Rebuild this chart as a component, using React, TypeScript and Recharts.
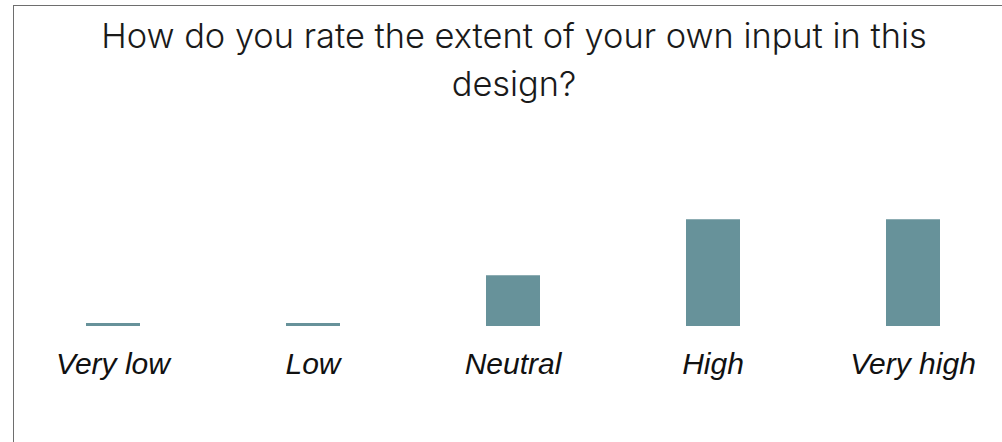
import { BarChart, Bar, XAxis, YAxis } from "recharts";

// answer options and share of respondents (%)
const categories = ["Very low", "Low", "Neutral", "High", "Very high"];
const shares = [0, 0, 19.2, 40.4, 40.4];
const yTicks = [0, 50];

const title = ["How do you rate the extent of your own input in this", "design?"];

const data = categories.map((name, i) => ({ name, value: shares[i] }));

const barColor = "#67929a";

const CategoryTick = (props: any) => {
  const { x, y, payload } = props;
  return (
    <text
      x={x}
      y={y}
      dy={40}
      textAnchor="middle"
      fill="#111"
      fontSize={30}
      fontStyle="italic"
      fontFamily="'Liberation Sans', Arial, sans-serif"
    >
      {payload.value}
    </text>
  );
};

export default function App() {
  return (
    <div
      style={{
        position: "fixed",
        top: 0,
        left: 0,
        width: 1002,
        height: 442,
        overflow: "hidden",
        background: "#fff",
      }}
    >
      <div
        style={{
          position: "absolute",
          left: 13,
          top: 5,
          width: 1000,
          height: 460,
          borderLeft: "1px solid #6e6e6e",
          borderTop: "1px solid #6e6e6e",
        }}
      >
        <div
          style={{
            position: "absolute",
            top: 6,
            left: 0,
            width: 1000,
            textAlign: "center",
            fontFamily: "Inter, sans-serif",
            fontWeight: 300,
            fontSize: 34.4,
            lineHeight: "48px",
            color: "#1a1a1a",
          }}
        >
          {title[0]}
          <br />
          {title[1]}
        </div>

        <div style={{ position: "absolute", top: 0, left: -1 }}>
          <BarChart
            width={1000}
            height={436}
            data={data}
            barSize={54}
            margin={{ top: 188, right: 0, left: 0, bottom: 56 }}
          >
            <XAxis
              dataKey="name"
              axisLine={false}
              tickLine={false}
              interval={0}
              height={60}
              tick={<CategoryTick />}
            />
            <YAxis hide domain={[yTicks[0], yTicks[1]]} ticks={yTicks} />
            <Bar
              dataKey="value"
              fill={barColor}
              minPointSize={3}
              isAnimationActive={false}
            />
          </BarChart>
        </div>
      </div>
    </div>
  );
}
